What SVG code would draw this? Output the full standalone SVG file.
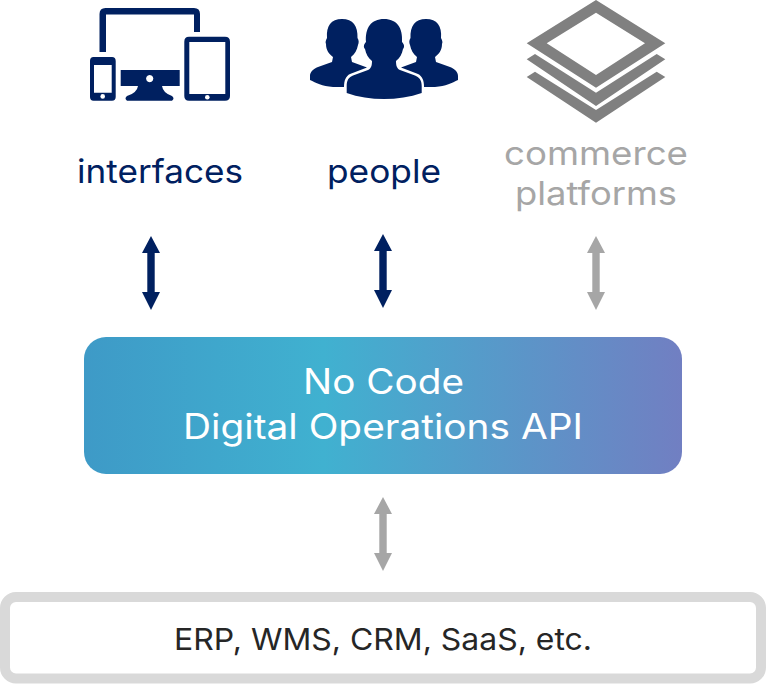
<svg xmlns="http://www.w3.org/2000/svg" width="766" height="684" viewBox="0 0 766 684">
<defs>
<linearGradient id="g" x1="0" y1="0" x2="1" y2="0"><stop offset="0" stop-color="#3e9ac7"/><stop offset="0.4" stop-color="#40b1d0"/><stop offset="1" stop-color="#717fc2"/></linearGradient>
<path id="arrow" d="M0 0L9 17H3.700V56H9L0 74L-9 56H-3.700V17H-9Z"/>
</defs>
<style>
text{font-family:"Inter","Liberation Sans",sans-serif}
.n{fill:#002060}.h{fill:#a6a6a6}.i{fill:#808080}.w{fill:#fff}
.t{font-size:33px}
.a{font-size:35px}
.b{font-size:30px}
</style>
<rect width="766" height="684" fill="#fff"/>
<g id="interfaces">
<path class="n" d="M99.500 52V14Q99.500 8 105.500 8H194Q200 8 200 14V32H194V14.500H106V52Z"/>
<path class="n" fill-rule="evenodd" d="M93.500 57H112Q115.700 57 115.700 61V97Q115.700 100.700 112 100.700H93.500Q90 100.700 90 97V61Q90 57 93.500 57ZM94 65V92.700H111.700V65Z"/>
<circle class="w" cx="102.700" cy="96.400" r="2.300"/>
<path class="n" fill-rule="evenodd" d="M120.700 70H179.700V86H162Q163 93 172 96Q175 98.500 172 100.700H127Q124 98.500 127 96Q137 93 138 86H120.700ZM149.700 75A3.600 3.600 0 1 0 149.701 75Z"/>
<path class="n" fill-rule="evenodd" d="M189 36.700H225Q230 36.700 230 41.700V96Q230 100.700 225 100.700H189Q184.300 100.700 184.300 96V41.700Q184.300 36.700 189 36.700ZM189.300 42V94H225.300V42Z"/>
<circle class="w" cx="207.300" cy="97.300" r="2.300"/>
<text class="t" x="77" y="183" fill="#002060" textLength="166" lengthAdjust="spacingAndGlyphs">interfaces</text>
</g>
<g id="people">
<path class="n" d="M333 87C322 86 316 83 310 80V76C310 72 313 69 318 67L332 62L333 57C329 54 326 50 326 44C325 42 326 40 327 38C326 26 331 19 342 19C353 19 358 26 357.500 38C359 40 359 43 358 45C357 50 355 54 351 57L352 62L367 67.500L350 74C346 76 344 80 344 87Z"/>
<path class="n" d="M435 87C446 86 452 83 458 80V76C458 72 455 69 450 67L436 62L435 57C439 54 442 50 442 44C443 42 442 40 441 38C442 26 437 19 426 19C415 19 410 26 410.500 38C409 40 409 43 410 45C411 50 413 54 417 57L416 62L401 67.500L418 74C422 76 424 80 424 87Z"/>
<path class="n" d="M346.700 93V86C346.700 80 349 77 353 75.500L368 70C371 68.500 372 66 372 61C368 58 366 54 365 49C363 47 364 44 366 42C365 28 371 19 384 19C397 19 403 28 402 42C404 44 405 47 403 49C402 54 400 58 396 61C396 66 397 68.500 400 70L415 75.500C419 77 421.700 80 421.700 86V93C410 97 397 99 384 99C371 99 358 97 346.700 93Z"/>
<text class="t" x="327" y="183" fill="#002060" textLength="114" lengthAdjust="spacingAndGlyphs">people</text>
</g>
<g id="commerce-platforms">
<path class="i" fill-rule="evenodd" d="M596 0L665.300 43.300L596 87.700L526.700 43.300ZM596 12.700L546.700 43.300L596 75L645 43.300Z"/>
<path class="i" d="M526.700 59.300L535 54L596 92.700L656.700 54L665.300 59.300L596 106Z"/>
<path class="i" d="M526.700 77L535 71.700L596 110L656.700 71.700L665.300 77L596 122.700Z"/>
<text class="t" x="504" y="165" fill="#a6a6a6" textLength="184" lengthAdjust="spacingAndGlyphs">commerce</text>
<text class="t" x="515" y="205" fill="#a6a6a6" textLength="162" lengthAdjust="spacingAndGlyphs">platforms</text>
</g>
<g id="connectors">
<use href="#arrow" class="n" x="151" y="236"/>
<use href="#arrow" class="n" x="383" y="234"/>
<use href="#arrow" class="h" x="596" y="236"/>
<use href="#arrow" class="h" x="383" y="497"/>
</g>
<g id="api">
<rect x="84" y="337" width="598" height="137" rx="22" fill="url(#g)"/>
<text class="a" x="303" y="394" fill="#fff" textLength="161" lengthAdjust="spacingAndGlyphs">No Code</text>
<text class="a" x="183" y="439" fill="#fff" textLength="400" lengthAdjust="spacingAndGlyphs">Digital Operations API</text>
</g>
<g id="systems">
<rect x="5" y="597" width="756" height="81.500" rx="11" fill="#fff" stroke="#d9d9d9" stroke-width="10"/>
<text class="b" x="174" y="650" fill="#262626" textLength="418" lengthAdjust="spacingAndGlyphs">ERP, WMS, CRM, SaaS, etc.</text>
</g>
</svg>
